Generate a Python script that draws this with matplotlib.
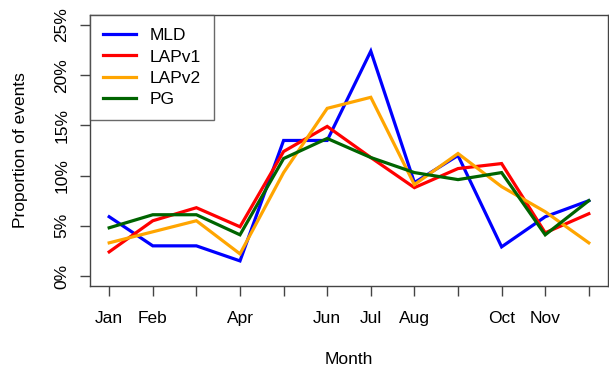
import matplotlib
matplotlib.use("Agg")
import matplotlib.pyplot as plt
from matplotlib.ticker import FuncFormatter

plt.rcParams["font.family"] = ["Liberation Sans", "DejaVu Sans"]

months = ["Jan", "Feb", "Mar", "Apr", "May", "Jun",
          "Jul", "Aug", "Sep", "Oct", "Nov", "Dec"]
# R drops labels that would overlap
month_labels = ["Jan", "Feb", "", "Apr", "", "Jun",
                "Jul", "Aug", "", "Oct", "Nov", ""]

# Proportion of events (%)
mld = [5.9, 3.0, 3.0, 1.5, 13.5, 13.5, 22.4, 9.3, 12.0, 2.9, 5.9, 7.5]
lapv1 = [2.4, 5.5, 6.8, 4.9, 12.4, 14.9, 11.8, 8.8, 10.7, 11.2, 4.3, 6.2]
lapv2 = [3.3, 4.4, 5.5, 2.2, 10.3, 16.7, 17.8, 9.1, 12.2, 8.9, 6.4, 3.3]
pg = [4.8, 6.1, 6.1, 4.1, 11.7, 13.7, 11.8, 10.3, 9.6, 10.3, 4.1, 7.5]

series = [("MLD", mld, "#0000FF"),
          ("LAPv1", lapv1, "#FF0000"),
          ("LAPv2", lapv2, "#FFA500"),
          ("PG", pg, "#006400")]

x = list(range(1, 13))

fig = plt.figure(figsize=(6.09, 3.67), dpi=100)
ax = fig.add_axes([90 / 609, 1 - 286 / 367, (608 - 90) / 609, (286 - 15) / 367])

for label, vals, color in series:
    ax.plot(x, vals, color=color, lw=2.3, label=label, solid_joinstyle="miter")

ax.set_xlim(0.56, 12.44)
ax.set_ylim(-1, 26)
ax.set_xticks(x)
ax.set_xticklabels(month_labels)
ax.set_yticks([0, 5, 10, 15, 20, 25])
ax.yaxis.set_major_formatter(FuncFormatter(lambda v, p: "%d%%" % v))
for lab in ax.get_yticklabels():
    lab.set_rotation(90)
    lab.set_va("center")

edge = "#444444"
for s in ax.spines.values():
    s.set_color(edge)
    s.set_linewidth(1.0)
ax.tick_params(axis="both", direction="out", length=7, width=1.0,
               color=edge, labelsize=12.5)
ax.tick_params(axis="x", pad=11)
ax.tick_params(axis="y", pad=8)

ax.set_xlabel("Month", fontsize=12.5, labelpad=19)
ax.set_ylabel("Proportion of events", fontsize=12.5, labelpad=19)

leg = ax.legend(loc="upper left", bbox_to_anchor=(0, 1), borderaxespad=0,
                fontsize=12.5, fancybox=False, handlelength=1.9,
                handletextpad=0.8, labelspacing=0.36, borderpad=0.75)
leg.get_frame().set_edgecolor(edge)
leg.get_frame().set_linewidth(1.0)

fig.savefig("out.png", dpi=100)
